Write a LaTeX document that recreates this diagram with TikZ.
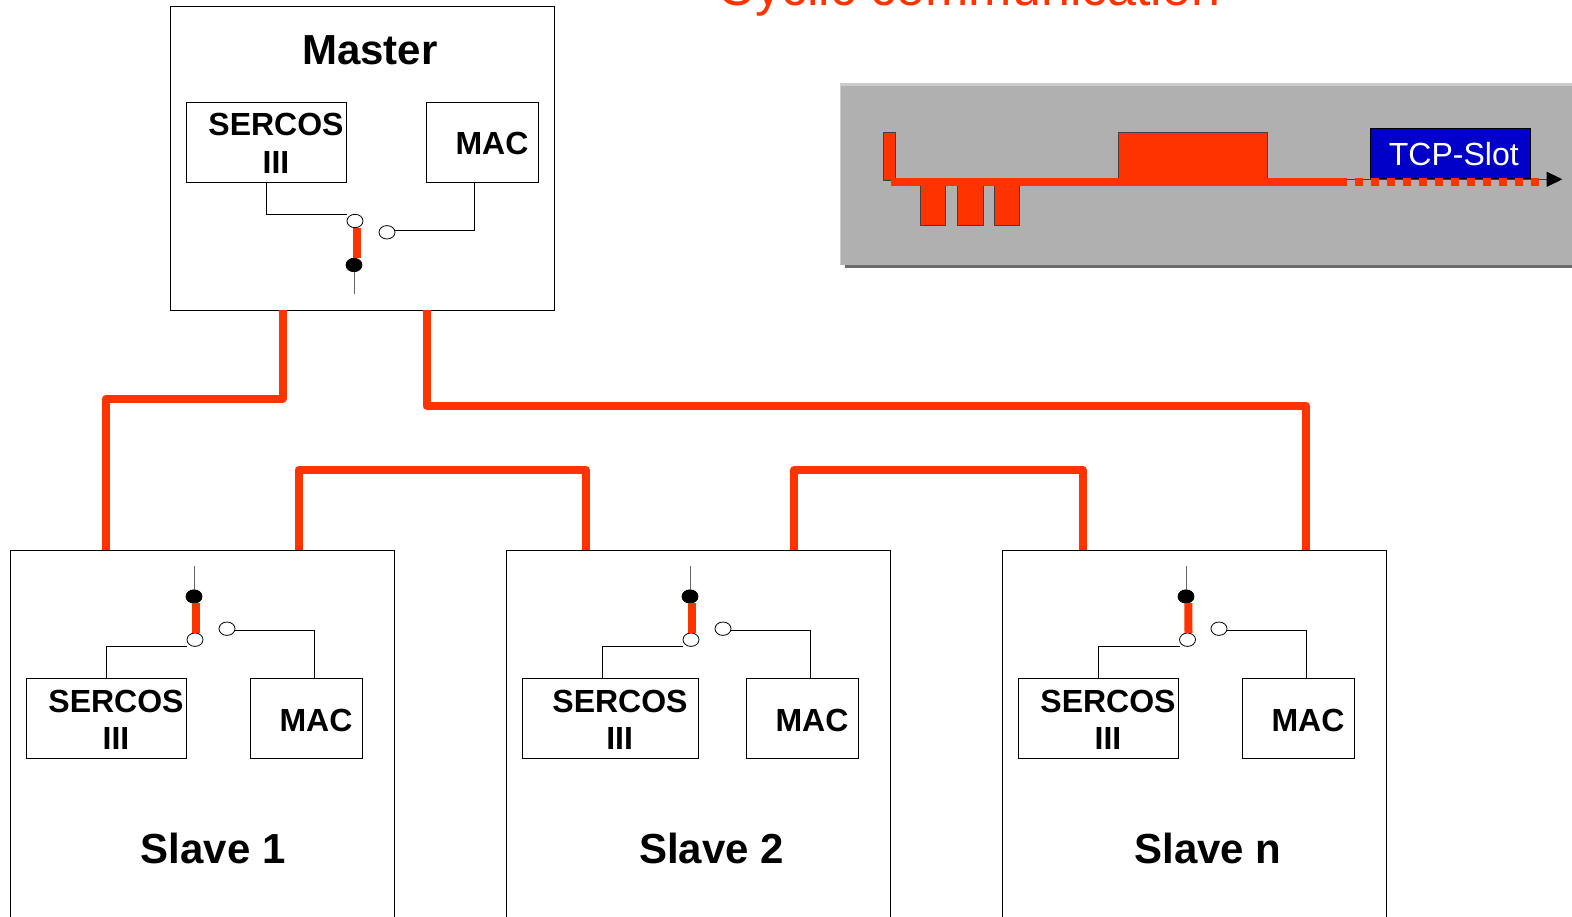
\documentclass[tikz,border=0pt]{standalone}
\usepackage{fontspec}
\setmainfont{Liberation Sans}
\usetikzlibrary{arrows.meta,shapes.geometric}
\definecolor{busred}{HTML}{FF3300}
\definecolor{slotblue}{HTML}{0000C8}
\definecolor{panelgray}{HTML}{B0B0B0}
\tikzset{
    stationbox/.style={draw, line width=1pt, inner sep=0pt, outer sep=0pt, minimum width=384pt},
    sercosbox/.style={draw, line width=1pt, inner sep=0pt, outer sep=0pt, minimum width=160.4pt, minimum height=80pt},
    macbox/.style={draw, line width=1pt, inner sep=0pt, outer sep=0pt, minimum width=112.4pt, minimum height=80pt},
    contact/.style={ellipse, draw, line width=0.8pt, fill=white, inner sep=0pt, outer sep=0pt, minimum width=16pt, minimum height=13.4pt},
    pivot/.style={contact, fill=black},
    wire/.style={line width=1pt},
    stub/.style={line width=1pt, black!60},
    lever/.style={line width=8pt, busred},
    bus/.style={line width=8pt, busred, line join=round},
    pulse/.style={draw=black!75, line width=0.8pt, fill=busred},
    bigtext/.style={anchor=base, inner sep=0pt, font=\fontsize{42}{42}\selectfont\bfseries},
    boxtext/.style={anchor=base, inner sep=0pt, font=\fontsize{32}{32}\selectfont\bfseries},
}
\begin{document}
\begin{tikzpicture}[x=1pt, y=-1pt]
    \useasboundingbox (0, 0) rectangle (1572, 917);
    \clip (0, 0) rectangle (1572, 917);
    \fill[white] (0, 0) rectangle (1572, 917);

    \node[anchor=base, inner sep=0pt, busred, font=\fontsize{52}{52}\selectfont] (title) at (969, 6) {Cyclic communication};

    \fill[black!58] (845, 100) rectangle (1572, 268);
    \fill[black!20] (840.4, 83.3) rectangle (1572, 265);
    \fill[panelgray] (841.4, 86) rectangle (1572, 265);
    \draw[line width=1pt, black!75, -{Triangle[length=15.6pt, width=15pt, black]}] (890, 179.3) -- (1562.3, 179.3);
    \draw[pulse] (883, 132.3) rectangle (895.3, 180);
    \draw[pulse] (920, 182) rectangle (945.5, 225.6);
    \draw[pulse] (957.3, 182) rectangle (982.9, 225.6);
    \draw[pulse] (994.7, 182) rectangle (1019.8, 225.6);
    \draw[pulse] (1118.7, 132.3) rectangle (1267.4, 180);
    \node[draw=black, fill=slotblue, line width=0.8pt, inner sep=0pt, outer sep=0pt, minimum width=160.6pt, minimum height=50pt] (slot) at (1450.5, 153.3) {};
    \node[anchor=base, inner sep=0pt, white, font=\fontsize{32}{32}\selectfont] (slottext) at (1453.8, 166) {TCP-Slot};
    \draw[line width=8.2pt, busred] (890.6, 182.4) -- (1338.7, 182.4);
    \draw[line width=8.2pt, busred, dash pattern=on 8pt off 8pt] (1338.7, 182.4) -- (1539, 182.4);

    \node[stationbox, minimum height=303.6pt] (master) at (362.5, 158.7) {};
    \node[bigtext] (masterlabel) at (370, 65) {Master};
    \node[sercosbox] (msercos) at (266.5, 142.3) {};
    \node[macbox] (mmac) at (482.5, 142.3) {};
    \node[boxtext] (msercostext) at (276, 136) {SERCOS};
    \node[boxtext] (miiitext) at (276, 173.3) {III};
    \node[boxtext] (mmactext) at (492, 155) {MAC};
    \node[contact] (mtop) at (355, 221) {};
    \node[contact] (mright) at (387, 232.3) {};
    \node[pivot] (mpivot) at (354, 265) {};
    \coordinate (mend) at (354, 294.5);
    \draw[wire] (msercos.south) |- ([xshift=-8pt, yshift=6.7pt]mtop.center);
    \draw[wire] ([xshift=-8pt]mmac.south) |- ([yshift=2pt]mright.east);
    \draw[lever] ([xshift=1.5pt]mtop.south) -- ([xshift=2.5pt]mpivot.north);
    \draw[stub] (mpivot) -- (mend);

    \node[stationbox, minimum height=380pt] (slavea) at (202.5, 740.3) {};
    \node[bigtext] (slavealabel) at (213.2, 863.5) {Slave 1};
    \node[sercosbox] (asercos) at (106.5, 718.5) {};
    \node[macbox] (amac) at (306.5, 718.5) {};
    \node[boxtext] (asercostext) at (116, 712.5) {SERCOS};
    \node[boxtext] (aiiitext) at (116, 749.3) {III};
    \node[boxtext] (amactext) at (316, 731.5) {MAC};
    \node[pivot] (apivot) at (194, 596.5) {};
    \node[contact] (abottom) at (195, 639.7) {};
    \node[contact] (aright) at (227, 628.7) {};
    \coordinate (aend) at (194, 566);
    \draw[wire] (asercos.north) |- ([xshift=-8pt, yshift=-6.7pt]abottom.center);
    \draw[wire] ([xshift=8pt]amac.north) |- ([yshift=-1.6pt]aright.east);
    \draw[lever] ([xshift=1.3pt]abottom.north) -- ([xshift=2.3pt]apivot.south);
    \draw[stub] (apivot) -- (aend);

    \node[stationbox, minimum height=380pt] (slaveb) at (698.5, 740.3) {};
    \node[bigtext] (slaveblabel) at (711.5, 863.5) {Slave 2};
    \node[sercosbox, minimum width=176.4pt] (bsercos) at (610.6, 718.5) {};
    \node[macbox] (bmac) at (802.5, 718.5) {};
    \node[boxtext] (bsercostext) at (620, 712.5) {SERCOS};
    \node[boxtext] (biiitext) at (619.6, 749.3) {III};
    \node[boxtext] (bmactext) at (812, 731.5) {MAC};
    \node[pivot] (bpivot) at (690, 596.5) {};
    \node[contact] (bbottom) at (691, 639.7) {};
    \node[contact] (bright) at (723, 628.7) {};
    \coordinate (bend) at (690, 566);
    \draw[wire] ([xshift=-8pt]bsercos.north) |- ([xshift=-8pt, yshift=-6.7pt]bbottom.center);
    \draw[wire] ([xshift=8pt]bmac.north) |- ([yshift=-1.6pt]bright.east);
    \draw[lever] ([xshift=1.3pt]bbottom.north) -- ([xshift=2.3pt]bpivot.south);
    \draw[stub] (bpivot) -- (bend);

    \node[stationbox, minimum height=380pt] (slavec) at (1194.5, 740.3) {};
    \node[bigtext] (slaveclabel) at (1208, 863.5) {Slave n};
    \node[sercosbox] (csercos) at (1098.5, 718.5) {};
    \node[macbox] (cmac) at (1298.5, 718.5) {};
    \node[boxtext] (csercostext) at (1108, 712.5) {SERCOS};
    \node[boxtext] (ciiitext) at (1108, 749.3) {III};
    \node[boxtext] (cmactext) at (1308, 731.5) {MAC};
    \node[pivot] (cpivot) at (1186, 596.5) {};
    \node[contact] (cbottom) at (1187.5, 639.7) {};
    \node[contact] (cright) at (1219, 628.7) {};
    \coordinate (cend) at (1186, 566);
    \draw[wire] (csercos.north) |- ([xshift=-8pt, yshift=-6.7pt]cbottom.center);
    \draw[wire] ([xshift=8pt]cmac.north) |- ([yshift=-1.6pt]cright.east);
    \draw[lever] ([xshift=1pt]cbottom.north) -- ([xshift=2.3pt]cpivot.south);
    \draw[stub] (cpivot) -- (cend);

    \draw[bus] ([xshift=112pt]master.south west) -- ++(0, 88) -| ([xshift=95.5pt]slavea.north west);
    \draw[bus] ([xshift=256pt]master.south west) -- ++(0, 95) -| ([xshift=303.5pt]slavec.north west);
    \draw[bus] ([xshift=288pt]slavea.north west) -- ++(0, -80) -| ([xshift=79.5pt]slaveb.north west);
    \draw[bus] ([xshift=287.5pt]slaveb.north west) -- ++(0, -80) -| ([xshift=80.5pt]slavec.north west);
\end{tikzpicture}
\end{document}
